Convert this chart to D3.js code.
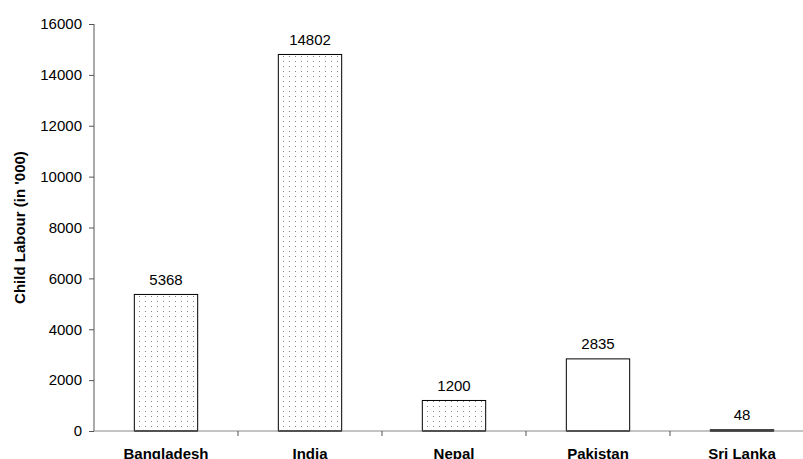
<!DOCTYPE html>
<html>
<head>
<meta charset="utf-8">
<script src="https://cdn.jsdelivr.net/npm/d3@7/dist/d3.min.js"></script>
<style>
  html, body { margin: 0; padding: 0; background: #fff; }
  svg { display: block; font-family: "Liberation Sans", Arial, sans-serif; }
</style>
</head>
<body>
<svg id="chart" width="803" height="459"></svg>
<script>
// Child labour by country (thousands)
const categories = ["Bangladesh", "India", "Nepal", "Pakistan", "Sri Lanka"];
const values = [5368, 14802, 1200, 2835, 48];
const dotted = [true, true, true, false, false];
const yTicks = [0, 2000, 4000, 6000, 8000, 10000, 12000, 14000, 16000];
const yTitle = "Child Labour (in '000)";

const svg = d3.select("#chart");
const plotLeft = 94, plotRight = 814, plotTop = 24, plotBottom = 431;

const y = d3.scaleLinear().domain([0, 16000]).range([plotBottom, plotTop]);
// slot scale: one slot per country, ticks at slot boundaries
const slot = d3.scaleBand().domain(categories).range([plotLeft, plotRight]).padding(0);
// bar scale inside the slots
const x = d3.scaleBand().domain(categories).range([plotLeft, plotRight])
  .paddingInner(0.56).paddingOuter(0.28);

// dot fill pattern
const defs = svg.append("defs");
const pat = defs.append("pattern")
  .attr("id", "dots")
  .attr("patternUnits", "userSpaceOnUse")
  .attr("x", 1).attr("y", 1)
  .attr("width", 6).attr("height", 5);
pat.append("rect").attr("width", 6).attr("height", 5).attr("fill", "#fff");
pat.append("rect").attr("x", 0).attr("y", 0).attr("width", 1).attr("height", 1).attr("fill", "#888");

// bars
svg.append("g").selectAll("rect")
  .data(categories)
  .join("rect")
  .attr("x", d => x(d))
  .attr("y", (d, i) => y(values[i]))
  .attr("width", x.bandwidth())
  .attr("height", (d, i) => y(0) - y(values[i]))
  .attr("fill", (d, i) => dotted[i] ? "url(#dots)" : "#fff")
  .attr("stroke", "#000")
  .attr("stroke-width", 1);

// value labels
svg.append("g").selectAll("text")
  .data(categories)
  .join("text")
  .attr("x", d => x(d) + x.bandwidth() / 2)
  .attr("y", (d, i) => y(values[i]) - 9.5)
  .attr("text-anchor", "middle")
  .attr("font-size", 15)
  .attr("fill", "#000")
  .text((d, i) => values[i]);

// y axis
const yAxis = d3.axisLeft(y).tickValues(yTicks).tickSize(5).tickPadding(7).tickFormat(d3.format("d"));
const gy = svg.append("g").attr("transform", `translate(${plotLeft},0)`).call(yAxis);
gy.select(".domain").attr("stroke", "#555").attr("d", `M0,${plotTop}V${plotBottom}`);
gy.selectAll(".tick line").attr("stroke", "#555");
gy.selectAll(".tick text").attr("font-size", 15).attr("fill", "#000")
  .attr("font-family", "Liberation Sans, Arial, sans-serif");

// x axis line and boundary ticks
const gx = svg.append("g");
gx.append("line")
  .attr("x1", plotLeft).attr("x2", plotRight)
  .attr("y1", y(0)).attr("y2", y(0))
  .attr("stroke", "#888");
gx.selectAll("line.tk")
  .data(categories)
  .join("line")
  .attr("class", "tk")
  .attr("x1", d => slot(d) + slot.bandwidth())
  .attr("x2", d => slot(d) + slot.bandwidth())
  .attr("y1", y(0)).attr("y2", y(0) + 5)
  .attr("stroke", "#555");

// redraw bar bottoms over the axis line
svg.append("g").selectAll("line")
  .data(categories)
  .join("line")
  .attr("x1", d => x(d)).attr("x2", d => x(d) + x.bandwidth())
  .attr("y1", y(0)).attr("y2", y(0))
  .attr("stroke", "#222");

// category labels
svg.append("g").selectAll("text")
  .data(categories)
  .join("text")
  .attr("x", d => slot(d) + slot.bandwidth() / 2)
  .attr("y", 459)
  .attr("text-anchor", "middle")
  .attr("font-size", 15)
  .attr("font-weight", "bold")
  .attr("fill", "#000")
  .text(d => d);

// y axis title
svg.append("text")
  .attr("transform", `translate(25,${(plotTop + plotBottom) / 2}) rotate(-90)`)
  .attr("text-anchor", "middle")
  .attr("font-size", 15)
  .attr("font-weight", "bold")
  .attr("fill", "#000")
  .text(yTitle);
</script>
</body>
</html>
